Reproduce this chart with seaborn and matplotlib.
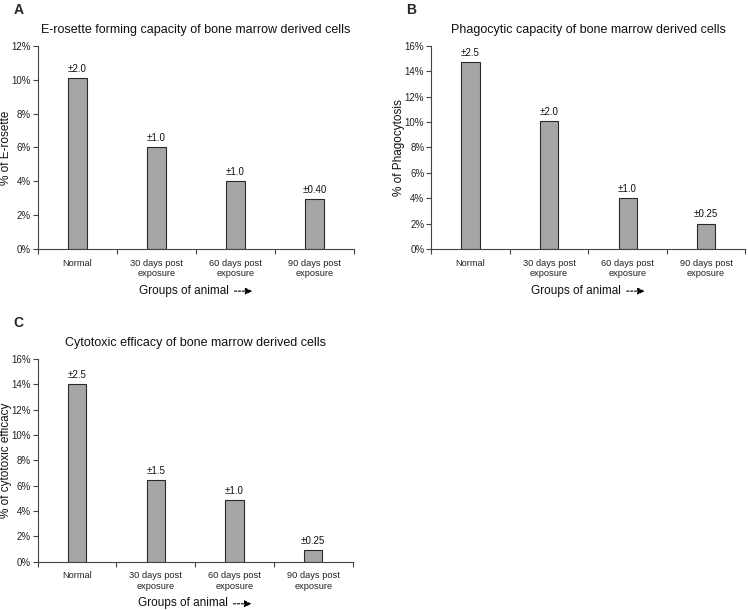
import matplotlib
matplotlib.use("Agg")
import matplotlib.pyplot as plt
import seaborn as sns
from matplotlib.ticker import PercentFormatter, FixedLocator

# data
groups = ["Normal", "30 days post\nexposure", "60 days post\nexposure", "90 days post\nexposure"]

erosette = [10.1, 6.0, 4.0, 2.95]
erosette_sd = ["±2.0", "±1.0", "±1.0", "±0.40"]

phago = [14.75, 10.05, 4.0, 2.0]
phago_sd = ["±2.5", "±2.0", "±1.0", "±0.25"]

cyto = [14.05, 6.45, 4.85, 0.9]
cyto_sd = ["±2.5", "±1.5", "±1.0", "±0.25"]

sns.set_style("ticks")
plt.rcParams['font.family'] = ['Liberation Sans', 'DejaVu Sans']

fig = plt.figure(figsize=(7.48, 6.10), dpi=100)

axA = fig.add_axes([0.0508, 0.5918, 0.4225, 0.3328])
axB = fig.add_axes([0.5765, 0.5918, 0.4200, 0.3328])
axC = fig.add_axes([0.0504, 0.0792, 0.4210, 0.3323])

panels = [
    (axA, erosette, erosette_sd, 12, "E-rosette forming capacity of bone marrow derived cells", "% of E-rosette", "A"),
    (axB, phago, phago_sd, 16, "Phagocytic capacity of bone marrow derived cells", "% of Phagocytosis", "B"),
    (axC, cyto, cyto_sd, 16, "Cytotoxic efficacy of bone marrow derived cells", "% of cytotoxic efficacy", "C"),
]

for ax, vals, sds, ymax, title, ylab, letter in panels:
    sns.barplot(x=groups, y=vals, ax=ax, color="#a6a6a6", saturation=1,
                edgecolor="#2a2a2a", linewidth=0.8, width=0.23)
    for i, (v, s) in enumerate(zip(vals, sds)):
        ax.annotate(s, (i, v), xytext=(0, 3), textcoords="offset points",
                    ha="center", va="bottom", fontsize=7, color="#111111")

    ax.set_xlim(-0.5, 3.5)
    ax.set_ylim(0, ymax)
    ax.set_yticks(range(0, ymax + 1, 2))
    ax.yaxis.set_major_formatter(PercentFormatter(xmax=100, decimals=0))
    ax.tick_params(axis="y", labelsize=7, length=3.5, width=0.8, colors="#444444", labelcolor="#222222", pad=1.5)

    # category boundaries get the tick marks, labels sit in the middle
    ax.xaxis.set_minor_locator(FixedLocator([-0.5, 0.5, 1.5, 2.5, 3.5]))
    ax.tick_params(axis="x", which="major", length=0, labelsize=6.7, labelcolor="#222222", pad=7)
    ax.tick_params(axis="x", which="minor", length=3.5, width=0.8, color="#444444")

    for sp in ["top", "right"]:
        ax.spines[sp].set_visible(False)
    for sp in ["left", "bottom"]:
        ax.spines[sp].set_color("#444444")
        ax.spines[sp].set_linewidth(0.8)

    ax.set_title(title, fontsize=9, pad=9, color="#111111")
    ax.set_ylabel(ylab, fontsize=8.5, color="#111111")
    ax.yaxis.set_label_coords(-0.082, 0.5)

    ax.set_xlabel("Groups of animal", fontsize=8.5, color="#111111")
    ax.xaxis.set_label_coords(0.462, -0.175)
    lab = ax.xaxis.label
    ax.annotate("", xy=(1.29, 0.45), xycoords=lab, xytext=(1.03, 0.45), textcoords=lab,
                arrowprops=dict(arrowstyle="-|>", color="black", lw=0.8,
                                linestyle=(0, (2, 1.5)), mutation_scale=10))

    bb = ax.get_position()
    fig.text(bb.x0 - 0.033, bb.y1 + 0.07, letter, fontsize=10, fontweight="bold",
             ha="left", va="top")

fig.savefig("out.png", dpi=100)
